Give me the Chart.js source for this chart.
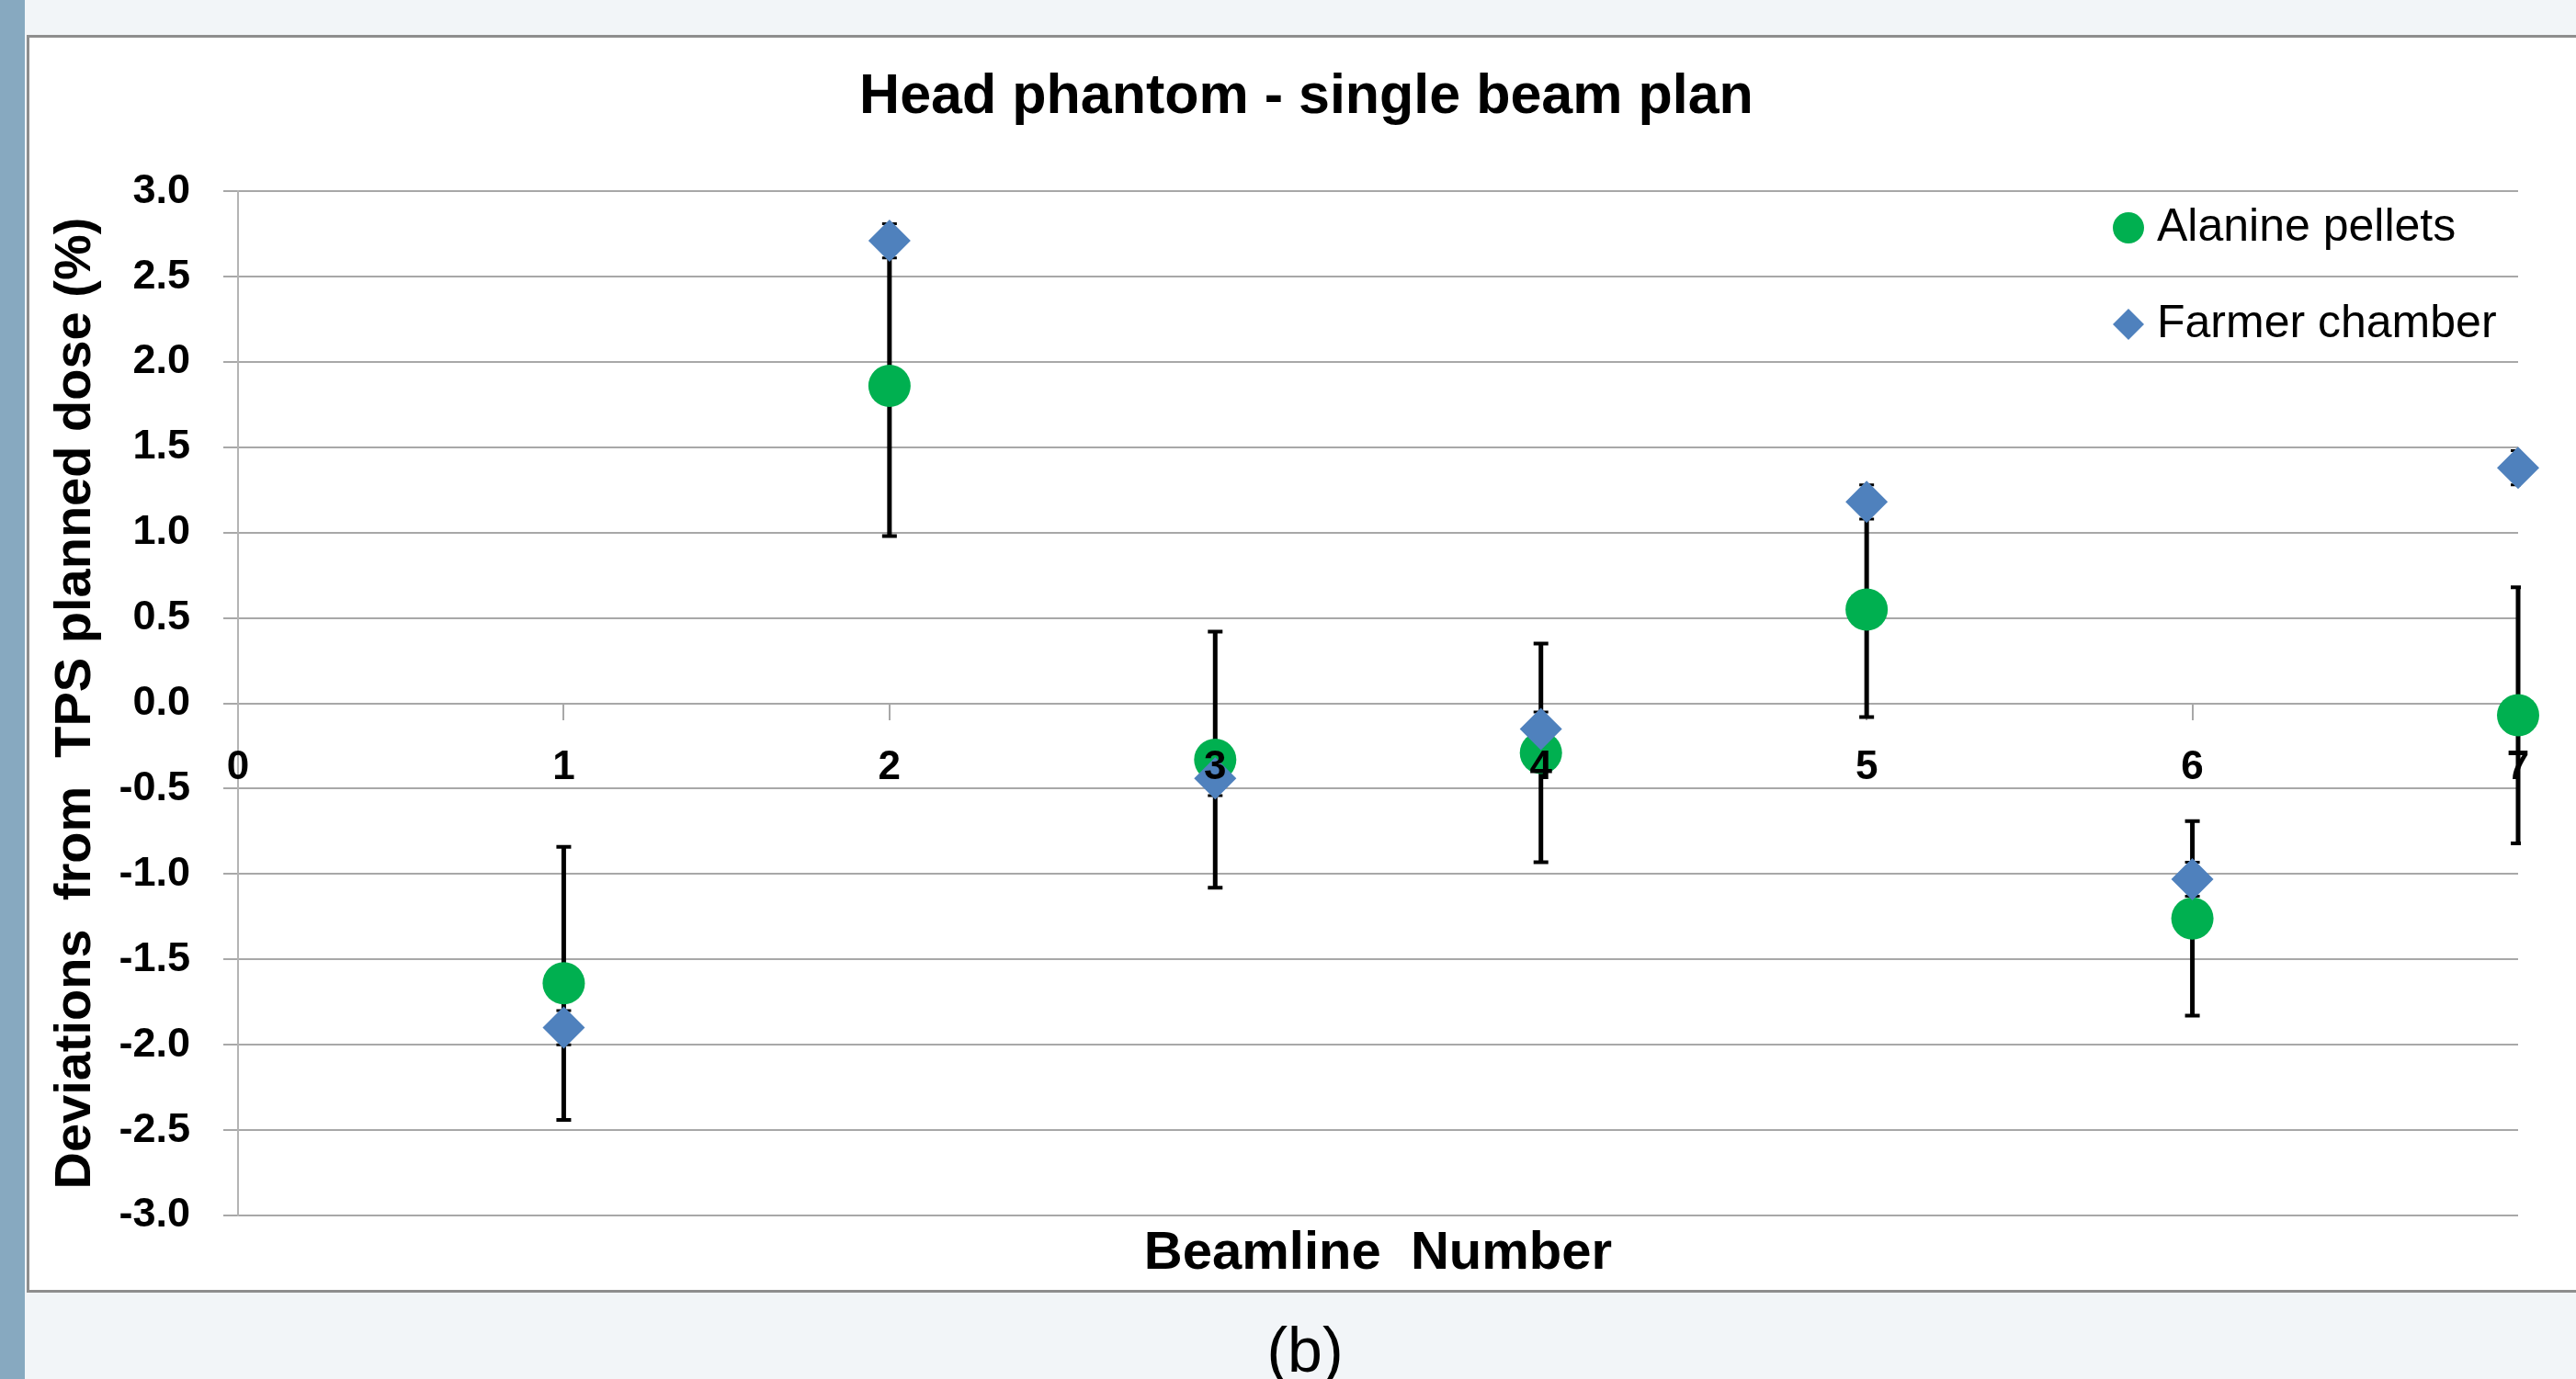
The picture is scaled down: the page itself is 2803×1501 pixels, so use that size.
<!DOCTYPE html>
<html><head><meta charset="utf-8">
<script src="https://cdn.jsdelivr.net/npm/chart.js@4.4.1/dist/chart.umd.min.js"></script>
<style>
html,body{margin:0;padding:0;}
body{width:2803px;height:1501px;background:#f2f5f8;position:relative;overflow:hidden;font-family:'Liberation Sans',Arial,sans-serif;}
#strip{position:absolute;left:0;top:0;width:27px;height:1501px;background:#87a9c0;}
#box{position:absolute;left:29px;top:38px;width:2850px;height:1363px;background:#fff;border:3px solid #8e8e8e;}
#cap{position:absolute;left:1320px;top:1435px;width:200px;text-align:center;font-size:68px;line-height:68px;color:#000;font-family:'Liberation Sans',Arial,sans-serif;}
#c{position:absolute;left:0;top:0;}
</style></head><body>
<div id="strip"></div><div id="box"></div><div id="cap">(b)</div>
<canvas id="c" width="2803" height="1501"></canvas>
<script>
// ---- data ----
const beamlines   = [1, 2, 3, 4, 5, 6, 7];
const alanine     = [-1.64, 1.86, -0.33, -0.29, 0.55, -1.26, -0.07];
const alanineErr  = [0.80, 0.88, 0.75, 0.64, 0.63, 0.57, 0.75];
const farmer      = [-1.90, 2.71, -0.44, -0.15, 1.18, -1.03, 1.38];
const farmerErr   = [0.10, 0.10, 0.10, 0.10, 0.10, 0.10, 0.10];
const xTickLabels = ['0', '1', '2', '3', '4', '5', '6', '7'];
const yTickLabels = ['-3.0', '-2.5', '-2.0', '-1.5', '-1.0', '-0.5', '0.0', '0.5', '1.0', '1.5', '2.0', '2.5', '3.0'];
const seriesNames = ['Alanine pellets', 'Farmer chamber'];
const chartTitle  = 'Head phantom - single beam plan';
const xTitle      = 'Beamline  Number';
const yTitle      = 'Deviations  from  TPS planned dose (%)';

const FONT = 'Liberation Sans';
Chart.defaults.font.family = FONT;
Chart.defaults.color = '#000';

const errorSets = [
  {values: alanine, errors: alanineErr, bar: 5, cap: 4},
  {values: farmer, errors: farmerErr, bar: 3, cap: 3}
];

const errorBarPlugin = {
  id: 'errorBars',
  beforeDatasetsDraw(chart) {
    const {ctx, chartArea, scales} = chart;
    const xs = scales.x, ys = scales.y;
    ctx.save();
    ctx.beginPath();
    ctx.rect(chartArea.left - 30, 0, chartArea.right - chartArea.left + 33, chart.height);
    ctx.clip();
    ctx.strokeStyle = '#000';
    errorSets.forEach(set => {
      set.values.forEach((v, i) => {
        const px = xs.getPixelForValue(beamlines[i]);
        const pHi = ys.getPixelForValue(v + set.errors[i]);
        const pLo = ys.getPixelForValue(v - set.errors[i]);
        ctx.lineWidth = set.bar;
        ctx.beginPath(); ctx.moveTo(px, pHi); ctx.lineTo(px, pLo); ctx.stroke();
        ctx.lineWidth = set.cap;
        ctx.beginPath();
        ctx.moveTo(px - 8, pHi); ctx.lineTo(px + 8, pHi);
        ctx.moveTo(px - 8, pLo); ctx.lineTo(px + 8, pLo);
        ctx.stroke();
      });
    });
    ctx.restore();
  }
};

const legendPos = {markerX: 2316, textX: 2347, y0: 248, dy: 105, r: 17};
const legendPlugin = {
  id: 'insideLegend',
  afterDraw(chart) {
    const {ctx} = chart;
    chart.data.datasets.forEach((ds, i) => {
      const y = legendPos.y0 + i * legendPos.dy;
      const x = legendPos.markerX, r = legendPos.r;
      ctx.save();
      ctx.fillStyle = ds.backgroundColor;
      ctx.beginPath();
      if (ds.pointStyle === 'circle') {
        ctx.arc(x, y, r, 0, Math.PI * 2);
      } else {
        ctx.moveTo(x - r, y); ctx.lineTo(x, y - r); ctx.lineTo(x + r, y); ctx.lineTo(x, y + r); ctx.closePath();
      }
      ctx.fill();
      ctx.fillStyle = '#000';
      ctx.font = '50px "' + FONT + '"';
      ctx.textBaseline = 'middle';
      ctx.textAlign = 'left';
      ctx.fillText(ds.label, legendPos.textX, y);
      ctx.restore();
    });
  }
};

const GRID = '#a8a8a8';

new Chart(document.getElementById('c'), {
  type: 'scatter',
  data: {
    datasets: [
      {
        label: seriesNames[0],
        data: beamlines.map((b, i) => ({x: b, y: alanine[i]})),
        pointStyle: 'circle', pointRadius: 23, pointHoverRadius: 23,
        backgroundColor: '#00b050', borderColor: '#00b050', borderWidth: 0,
        showLine: false, clip: false, order: 2
      },
      {
        label: seriesNames[1],
        data: beamlines.map((b, i) => ({x: b, y: farmer[i]})),
        pointStyle: 'rectRot', pointRadius: 23, pointHoverRadius: 23,
        backgroundColor: '#4f81bd', borderColor: '#4f81bd', borderWidth: 0,
        showLine: false, clip: false, order: 1
      }
    ]
  },
  options: {
    responsive: false,
    animation: false,
    devicePixelRatio: 1,
    layout: {padding: {left: 40, right: 0, top: 39, bottom: 98}},
    plugins: {
      legend: {display: false},
      tooltip: {enabled: false},
      title: {
        display: true, text: chartTitle, color: '#000',
        font: {family: FONT, size: 61, weight: 'bold'},
        padding: {top: 31, bottom: 65}
      }
    },
    scales: {
      x: {
        type: 'linear', axis: 'x', position: {y: 0}, min: 0, max: 7,
        afterFit: s => { s.height = 0; },
        ticks: {
          stepSize: 1, autoSkip: false, maxRotation: 0, color: '#000', padding: 27, z: 1,
          font: {family: FONT, size: 44, weight: 'bold'},
          callback: v => xTickLabels[Math.round(v)]
        },
        grid: {drawOnChartArea: false, drawTicks: true, tickLength: 17, color: GRID, lineWidth: 2},
        border: {display: true, color: GRID, width: 2}
      },
      x2: {
        type: 'linear', axis: 'x', position: 'bottom', min: 0, max: 7,
        afterFit: s => { s.height = 80; },
        ticks: {display: false},
        grid: {display: false, drawTicks: false},
        border: {display: false},
        title: {
          display: true, text: xTitle, color: '#000',
          font: {family: FONT, size: 58, weight: 'bold'},
          padding: {top: 0, bottom: 3}
        }
      },
      y: {
        type: 'linear', axis: 'y', position: 'left', min: -3, max: 3,
        afterFit: s => { s.width = 219; },
        ticks: {
          stepSize: 0.5, autoSkip: false, color: '#000', padding: 36,
          font: {family: FONT, size: 45, weight: 'bold'},
          callback: v => yTickLabels[Math.round((v + 3) * 2)]
        },
        grid: {color: GRID, lineWidth: 2, tickLength: 16},
        border: {display: true, color: '#b4b4b4', width: 2},
        title: {
          display: true, text: yTitle, color: '#000',
          font: {family: FONT, size: 56, weight: 'bold'},
          padding: {top: 9, bottom: 0}
        }
      },
      y2: {
        type: 'linear', axis: 'y', position: 'right', min: -3, max: 3,
        afterFit: s => { s.width = 63; },
        ticks: {display: false},
        grid: {display: false, drawTicks: false},
        border: {display: false}
      }
    }
  },
  plugins: [errorBarPlugin, legendPlugin]
});
</script>
</body></html>
